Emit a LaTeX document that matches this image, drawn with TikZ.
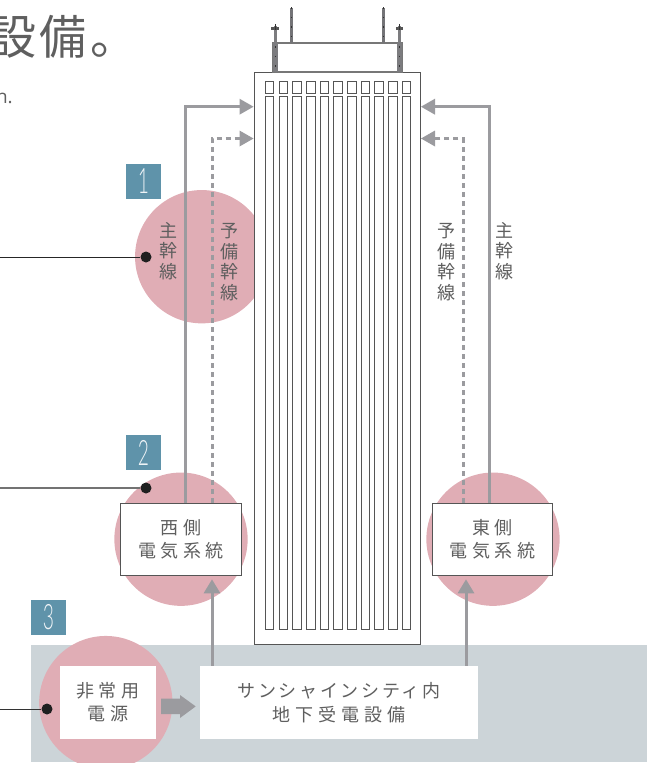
\documentclass[tikz,border=0pt]{standalone}
\usepackage{fontspec}
\usetikzlibrary{arrows.meta,calc}
\newfontfamily\jp{Noto Sans CJK JP}
\newfontfamily\jph[LetterSpace=8]{Noto Sans CJK JP}
\newfontfamily\jpa[LetterSpace=25]{Noto Sans CJK JP}
\newfontfamily\jpb[LetterSpace=28]{Noto Sans CJK JP}
\newfontfamily\jpc[LetterSpace=15]{Noto Sans CJK JP}
\setsansfont{Open Sans}
\newfontfamily\numf{Lato Light}
\definecolor{pinkc}{HTML}{E0ADB5}
\definecolor{bandc}{HTML}{CCD4D8}
\definecolor{bluec}{HTML}{5F93AA}
\definecolor{arrowc}{HTML}{9B9B9F}
\definecolor{linec}{HTML}{555555}
\definecolor{textc}{HTML}{5F5F5F}
\newcommand{\tagnum}[1]{\scalebox{.55}[1]{#1}}
\tikzset{
  pinkdisc/.style={circle,fill=pinkc,minimum size=133.3pt,inner sep=0pt},
  numbox/.style={fill=bluec,text=white!90!bluec,minimum size=35pt,inner sep=0pt,font=\numf\fontsize{35}{35}\selectfont},
  sysbox/.style={draw=linec,line width=1pt,fill=white,minimum width=120.5pt,minimum height=72pt,inner sep=0pt,align=center,text=textc,font=\jpa\fontsize{18}{23}\selectfont},
  whitebox/.style={fill=white,inner sep=0pt,align=center,text=textc,font=\jpa\fontsize{18}{23}\selectfont},
  vtext/.style={inner sep=0pt,align=center,text=textc,font=\jp\fontsize{18}{20.7}\selectfont},
  dot/.style={circle,fill=black!88,minimum size=11pt,inner sep=0pt},
  plainline/.style={draw=arrowc,line width=3pt},
  spareplain/.style={draw=arrowc,line width=3pt,dash pattern=on 5pt off 4pt},
  upline/.style={draw=arrowc,line width=3pt,shorten >=3.5pt,-{Triangle[length=14pt,width=16pt]}},
  bldline/.style={draw=linec,line width=1pt},
  mastgrey/.style={draw=arrowc!80!black,line width=5pt},
  mastdots/.style={draw=black!80,line width=1pt,dash pattern=on 1.5pt off 8pt},
}
\begin{document}
\begin{tikzpicture}[x=1pt,y=-1pt]
\useasboundingbox (0,0) rectangle (658,763);
% headline fragments
\node[anchor=base west,inner sep=0pt,text=textc,font=\jph\fontsize{47}{47}\selectfont] (head) at (-11,54) {設備。};
\node[anchor=base east,inner sep=0pt,text=textc,font=\sffamily\fontsize{19}{19}\selectfont] (sub) at (13,103) {n.};
% band
\fill[bandc] (31,645) rectangle (647,761.5);
% discs
\node[pinkdisc] (d1) at (201.7,256.7) {};
\node[pinkdisc] (d2) at (181,539.2) {};
\node[pinkdisc] (d4) at (493,539.2) {};
\node[pinkdisc] (d3) at (105.8,702.6) {};
% building
\node[bldline,fill=white,minimum width=166.5pt,minimum height=572pt,inner sep=0pt] (bld) at (337.25,358) {};
\foreach \i in {0,...,10}{
  \pgfmathsetmacro{\xa}{265.3+13.7*\i}
  \pgfmathsetmacro{\xb}{\xa+8.6}
  \draw[bldline] (\xa,81.3) rectangle (\xb,93.3);
  \draw[bldline] (\xa,96.3) rectangle (\xb,629.3);
}
% roof and masts
\node[draw=linec!80!white,line width=1.2pt,fill=white,minimum width=130pt,minimum height=29pt,inner sep=0pt] (roof) at (337.4,57.5) {};
\foreach \mx in {275,399.4}{
  \draw[mastgrey] (\mx,43) -- (\mx,72);
  \draw[mastdots] (\mx,46) -- (\mx,72);
  \draw[draw=arrowc!80!black,line width=3pt] (\mx+.3,26) -- (\mx+.3,43);
  \draw[draw=linec,line width=2.4pt] (\mx-3.6,28.5) -- (\mx+3.6,28.5);
  \draw[draw=black!80,line width=1pt] (\mx,24) -- (\mx,30);
}
\foreach \mx in {291.3,383.7}{
  \draw[draw=arrowc!75!black,line width=3.2pt] (\mx,8) -- (\mx,43);
  \draw[mastdots] (\mx,7) -- (\mx,43);
}
% boxes
\node[sysbox] (wbox) at (181.2,539.3) {西側\\電気系統};
\node[sysbox] (ebox) at (492.5,539.3) {東側\\電気系統};
\node[whitebox,minimum width=96pt,minimum height=72.7pt] (pbox) at (107.9,702.4) {非常用\\電源};
\node[fill=white,inner sep=0pt,align=center,text=textc,minimum width=278pt,minimum height=73pt,font=\jp\fontsize{18}{24.5}\selectfont] (gbox) at (339,702.5) {{\jpc サンシャインシティ内}\\{\jpb 地下受電設備}};
% trunk routes
\coordinate (wm) at (185,106.7);
\coordinate (ws) at (212,138.5);
\coordinate (em) at (489.5,106.7);
\coordinate (es) at (463,138.5);
\coordinate (wu) at (212,600);
\coordinate (eu) at (466,600);
\draw[plainline] (wbox.north -| wm) -- (wm) -- ($(bld.west |- wm)+(-8,0)$);
\fill[arrowc] (bld.west |- wm) -- ++(-14,-8) -- ++(0,16) -- cycle;
\draw[plainline] (ebox.north -| em) -- (em) -- ($(bld.east |- em)+(8,0)$);
\fill[arrowc] (bld.east |- em) -- ++(14,-8) -- ++(0,16) -- cycle;
\draw[spareplain] (wbox.north -| ws) -- (ws) -- ($(bld.west |- ws)+(-14,0)$);
\fill[arrowc] (bld.west |- ws) -- ++(-14,-8) -- ++(0,16) -- cycle;
\draw[spareplain] (ebox.north -| es) -- (es) -- ($(bld.east |- es)+(14,0)$);
\fill[arrowc] (bld.east |- es) -- ++(14,-8) -- ++(0,16) -- cycle;
% supply arrows
\draw[upline] (gbox.north -| wu) -- (wbox.south -| wu);
\draw[upline] (gbox.north -| eu) -- (ebox.south -| eu);
\fill[arrowc] (161,698.7) -- (180,698.7) -- (180,695) -- (195.7,706.4) -- (180,718) -- (180,714) -- (161,714) -- cycle;
% leaders
\node[dot] (p1) at (146,257) {};
\node[dot] (p2) at (146,488) {};
\node[dot] (p3) at (47,709) {};
\coordinate (l1) at (0,257);
\coordinate (l2) at (0,488);
\coordinate (l3) at (0,709);
\draw[black!85,line width=1pt] (l1) -- (p1);
\draw[black!55,line width=1.4pt] (l2) -- (p2);
\draw[black!80,line width=1pt] (l3) -- (p3);
% number tags
\node[numbox] (n1) at (143.5,181.5) {\tagnum{1}};
\node[numbox] (n2) at (143.5,452.5) {\tagnum{2}};
\node[numbox] (n3) at (48.5,617.5) {\tagnum{3}};
% vertical labels
\node[vtext] (t1) at (168.7,251) {主\\幹\\線};
\node[vtext] (t2) at (229,262) {予\\備\\幹\\線};
\node[vtext] (t3) at (446,262) {予\\備\\幹\\線};
\node[vtext] (t4) at (504,251) {主\\幹\\線};
\end{tikzpicture}
\end{document}
